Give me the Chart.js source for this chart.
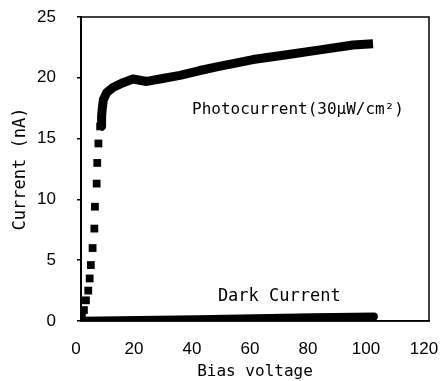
<!DOCTYPE html>
<html>
<head>
<meta charset="utf-8">
<script src="https://cdn.jsdelivr.net/npm/chart.js@4.4.1/dist/chart.umd.min.js"></script>
<style>
  html, body { margin: 0; padding: 0; background: #fff; }
  #wrap { width: 441px; height: 381px; }
</style>
</head>
<body>
<div id="wrap"><canvas id="c" width="441" height="381"></canvas></div>
<script>
// rising part of the photocurrent, drawn as separate squares
const riseV = [0.3, 1.0, 1.7, 2.5, 3.0, 3.4, 4.0, 4.6, 4.8, 5.4, 5.6, 6.0, 6.6];
const riseI = [0.3, 0.9, 1.7, 2.5, 3.5, 4.6, 6.0, 7.6, 9.4, 11.3, 13.0, 14.6, 16.0];

// dense part of the photocurrent (reads as a thick band)
const photoV = [6.9, 7.1, 7.3, 7.7, 8.9, 11.0, 14.5, 17.9, 20.3, 22.7, 27.2, 34.1, 41.0, 46.8, 59.3, 70.9, 82.4, 93.8, 100.7];
const photoI = [16.0, 16.8, 17.4, 18.2, 18.8, 19.2, 19.6, 19.9, 19.8, 19.7, 19.9, 20.2, 20.6, 20.9, 21.5, 21.9, 22.3, 22.7, 22.8];

// dark current
const darkV = [0, 20, 40, 60, 80, 101];
const darkI = [0.03, 0.08, 0.15, 0.22, 0.30, 0.37];

const xTicks = [0, 20, 40, 60, 80, 100, 120];
const yTicks = [0, 5, 10, 15, 20, 25];

// in-plot labels, placed in data units
const notes = [
  { text: 'Photocurrent(30\u03bcW/cm\u00b2)', x: 38.3, y: 17.35, size: 16 },
  { text: 'Dark Current', x: 47.2, y: 2.0, size: 17 }
];

const toXY = (xs, ys) => xs.map((v, i) => ({ x: v, y: ys[i] }));

const frame = {
  id: 'frame',
  afterDatasetsDraw(chart) {
    const { ctx, chartArea: a } = chart;
    ctx.save();
    ctx.strokeStyle = '#000';
    ctx.lineWidth = 1.5;
    ctx.strokeRect(a.left, a.top, a.right - a.left, a.bottom - a.top);
    ctx.restore();
  }
};

const noteText = {
  id: 'noteText',
  afterDraw(chart) {
    const { ctx, scales } = chart;
    ctx.save();
    ctx.fillStyle = '#000';
    ctx.textAlign = 'left';
    ctx.textBaseline = 'middle';
    notes.forEach(n => {
      ctx.font = n.size + 'px "DejaVu Sans Mono"';
      ctx.fillText(n.text, scales.x.getPixelForValue(n.x), scales.y.getPixelForValue(n.y));
    });
    ctx.restore();
  }
};

new Chart(document.getElementById('c'), {
  type: 'scatter',
  data: {
    datasets: [
      {
        label: 'Dark Current',
        data: toXY(darkV, darkI),
        showLine: true,
        borderColor: '#000',
        borderWidth: 8,
        borderCapStyle: 'round',
        pointRadius: 0,
        tension: 0
      },
      {
        label: 'Photocurrent band',
        data: toXY(photoV, photoI),
        showLine: true,
        borderColor: '#000',
        borderWidth: 9,
        borderJoinStyle: 'round',
        pointRadius: 0,
        tension: 0
      },
      {
        label: 'Photocurrent rise',
        data: toXY(riseV, riseI),
        showLine: false,
        pointStyle: 'rect',
        pointRadius: 5.5,
        pointBorderWidth: 0,
        backgroundColor: '#000',
        borderColor: '#000'
      }
    ]
  },
  options: {
    responsive: false,
    animation: false,
    layout: { padding: { top: 17, right: 12, left: 0, bottom: 0 } },
    plugins: {
      legend: { display: false },
      tooltip: { enabled: false }
    },
    scales: {
      x: {
        type: 'linear',
        min: 0,
        max: 120,
        afterBuildTicks: s => { s.ticks = xTicks.map(v => ({ value: v })); },
        afterFit: s => { s.height = 60; s.paddingLeft = 0; s.paddingRight = 0; },
        grid: { display: false },
        border: { display: true, color: '#000', width: 1.5 },
        ticks: {
          color: '#000',
          padding: 10,
          labelOffset: -5,
          maxRotation: 0,
          font: { family: '"Liberation Sans", Arial, sans-serif', size: 17 }
        },
        title: {
          display: true,
          text: 'Bias voltage',
          color: '#000',
          padding: { top: 0, bottom: 1 },
          font: { family: '"DejaVu Sans Mono", monospace', size: 16, lineHeight: 1 }
        }
      },
      y: {
        type: 'linear',
        min: 0,
        max: 25,
        afterBuildTicks: s => { s.ticks = yTicks.map(v => ({ value: v })); },
        afterFit: s => { s.width = 81; s.paddingTop = 0; s.paddingBottom = 0; },
        grid: { drawOnChartArea: false, tickLength: 4, color: '#000', lineWidth: 1.5 },
        border: { display: true, color: '#000', width: 2 },
        ticks: {
          color: '#000',
          padding: 21,
          font: { family: '"Liberation Sans", Arial, sans-serif', size: 17 }
        },
        title: {
          display: true,
          text: 'Current (nA)',
          color: '#000',
          padding: { top: 12, bottom: 0 },
          font: { family: '"DejaVu Sans Mono", monospace', size: 17, lineHeight: 1 }
        }
      }
    }
  },
  plugins: [frame, noteText]
});
</script>
</body>
</html>
